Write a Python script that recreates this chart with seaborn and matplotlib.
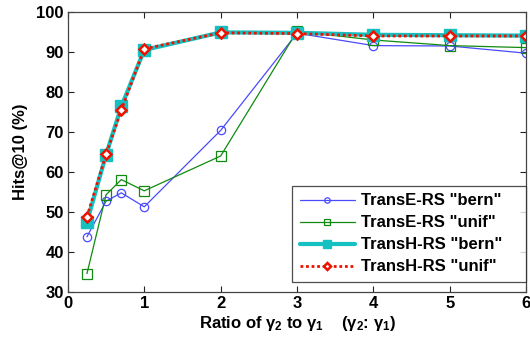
import matplotlib
matplotlib.use("Agg")
import matplotlib.pyplot as plt
import seaborn as sns
import pandas as pd

ratios = [0.25, 0.5, 0.7, 1, 2, 3, 4, 5, 6]
transe_bern = [43.8, 52.7, 54.8, 51.3, 70.4, 94.7, 91.6, 91.5, 89.7]
transe_unif = [34.6, 54.3, 58.1, 55.3, 64.0, 95.2, 93.0, 91.6, 91.1]
transh_bern = [47.5, 64.3, 76.4, 90.5, 94.9, 94.8, 94.3, 94.2, 94.1]
transh_unif = [48.8, 64.4, 75.5, 90.8, 94.8, 94.6, 94.0, 94.0, 94.0]
series_names = ['TransE-RS "bern"', 'TransE-RS "unif"', 'TransH-RS "bern"', 'TransH-RS "unif"']
x_ticks = [0, 1, 2, 3, 4, 5, 6]
y_ticks = [30, 40, 50, 60, 70, 80, 90, 100]

sns.set_style("ticks")
plt.rcParams['font.family'] = ['Liberation Sans', 'DejaVu Sans']
plt.rcParams['font.weight'] = 'bold'
plt.rcParams['text.color'] = 'black'
plt.rcParams['axes.labelcolor'] = 'black'
plt.rcParams['mathtext.fontset'] = 'custom'
plt.rcParams['mathtext.rm'] = 'Liberation Sans:bold'
plt.rcParams['mathtext.it'] = 'Liberation Sans:bold'
plt.rcParams['mathtext.bf'] = 'Liberation Sans:bold'

df = pd.DataFrame({
    'x': ratios * 4,
    'y': transe_bern + transe_unif + transh_bern + transh_unif,
    'series': sum([[n] * len(ratios) for n in series_names], []),
})

fig = plt.figure(figsize=(5.3, 3.38), dpi=100)
ax = fig.add_axes([0.128, 0.136, 0.865, 0.8285])

styles = [
    dict(color='#4a4aff', lw=0.9, marker='o', ms=6, mfc='none', mec='#4a4aff', mew=0.9, ls='-'),
    dict(color='#108a10', lw=0.9, marker='s', ms=6.5, mfc='none', mec='#108a10', mew=0.9, ls='-'),
    dict(color='#14c0c0', lw=3.0, marker='s', ms=8, mfc='#14c0c0', mec='#14c0c0', mew=1, ls='-'),
    dict(color='#ee1100', lw=2.0, marker='D', ms=5.5, mfc='white', mec='#ee1100', mew=1.8, ls=(0, (1, 1))),
]
for name, st in zip(series_names, styles):
    sub = df[df['series'] == name]
    sns.lineplot(data=sub, x='x', y='y', ax=ax, label=name, color=st['color'],
                 linewidth=st['lw'], linestyle=st['ls'], marker=st['marker'],
                 markersize=st['ms'], markerfacecolor=st['mfc'],
                 markeredgecolor=st['mec'], markeredgewidth=st['mew'])

ax.set_xlim(0, 6)
ax.set_ylim(30, 100)
ax.set_xticks(x_ticks)
ax.set_yticks(y_ticks)
ax.tick_params(direction='in', top=True, right=True, length=4, width=0.8,
               labelsize=12, colors='#222222', pad=3)
for lab in ax.get_xticklabels() + ax.get_yticklabels():
    lab.set_fontweight('bold')
    lab.set_color('black')
for sp in ax.spines.values():
    sp.set_color('#444444')
    sp.set_linewidth(0.9)

ax.set_xlabel(r'Ratio of $\gamma_2$ to $\gamma_1$    ($\gamma_2$: $\gamma_1$)',
              fontsize=12, fontweight='bold', labelpad=2, color='black')
ax.set_ylabel('Hits@10 (%)', fontsize=12, fontweight='bold', labelpad=6, color='black')

leg = ax.legend(loc='lower left', bbox_to_anchor=(0.489, 0.036, 0.511, 0.3),
                mode='expand', borderaxespad=0,
                frameon=True, fancybox=False, edgecolor='#222222', fontsize=12,
                handlelength=3.3, borderpad=0.45, labelspacing=0.42,
                handletextpad=0.4, markerscale=0.65)
leg.get_frame().set_linewidth(0.9)
for t in leg.get_texts():
    t.set_fontweight('bold')
    t.set_color('black')

fig.savefig('out.png', dpi=100)
